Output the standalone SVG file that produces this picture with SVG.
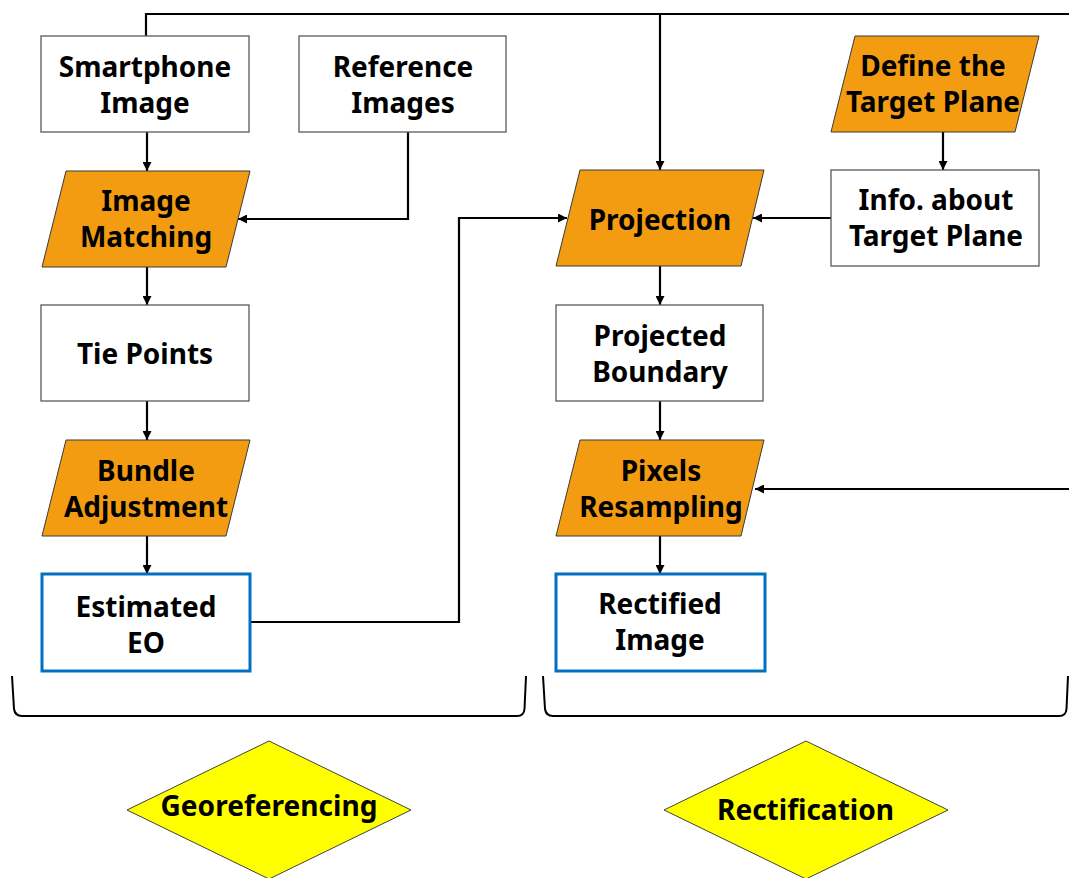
<svg xmlns="http://www.w3.org/2000/svg" width="1069" height="878" viewBox="0 0 1069 878">
  <defs>
    <marker id="arrow" markerUnits="userSpaceOnUse" markerWidth="9" markerHeight="9" refX="9" refY="4.5" orient="auto">
      <path d="M0,0 L9,4.5 L0,9 z" fill="#000"/>
    </marker>
    <style>
      .box { fill: #fff; stroke: #595959; stroke-width: 1.3; }
      .out { fill: #fff; stroke: #0070C0; stroke-width: 3; }
      .proc { fill: #F39C12; stroke: #3a3a3a; stroke-width: 1; }
      .dia { fill: #FFFF00; stroke: #404040; stroke-width: 1; }
      .lbl { font-family: "Noto Sans", "Open Sans", "Liberation Sans", sans-serif; font-weight: bold; font-size: 28px; fill: #000; text-anchor: middle; }
      .edge { fill: none; stroke: #000; stroke-width: 2.2; }
      .brace { fill: none; stroke: #000; stroke-width: 2; }
    </style>
  </defs>
  <rect width="1069" height="878" fill="#fff"/>

  <!-- connectors -->
  <g id="connectors">
    <path class="edge" d="M146,36 V14 H1069"/>
    <path class="edge" d="M660,14 V170" marker-end="url(#arrow)"/>
    <path class="edge" d="M147,132 V171" marker-end="url(#arrow)"/>
    <path class="edge" d="M408,132 V219 H238" marker-end="url(#arrow)"/>
    <path class="edge" d="M147,267 V305" marker-end="url(#arrow)"/>
    <path class="edge" d="M147,401 V440" marker-end="url(#arrow)"/>
    <path class="edge" d="M147,536 V574" marker-end="url(#arrow)"/>
    <path class="edge" d="M250,622 H459 V218 H567" marker-end="url(#arrow)"/>
    <path class="edge" d="M831,218 H753" marker-end="url(#arrow)"/>
    <path class="edge" d="M943,132 V170" marker-end="url(#arrow)"/>
    <path class="edge" d="M660,266 V305" marker-end="url(#arrow)"/>
    <path class="edge" d="M660,401 V440" marker-end="url(#arrow)"/>
    <path class="edge" d="M1069,489 H755" marker-end="url(#arrow)"/>
    <path class="edge" d="M660,536 V574" marker-end="url(#arrow)"/>
  </g>

  <!-- georeferencing branch -->
  <g id="smartphone-image">
    <rect class="box" x="41" y="36" width="208" height="96"/>
    <text class="lbl" x="145" y="77">Smartphone</text>
    <text class="lbl" x="145" y="113">Image</text>
  </g>
  <g id="reference-images">
    <rect class="box" x="299" y="36" width="207" height="96"/>
    <text class="lbl" x="403" y="77">Reference</text>
    <text class="lbl" x="403" y="113">Images</text>
  </g>
  <g id="image-matching">
    <polygon class="proc" points="66,171 250,171 226,267 42,267"/>
    <text class="lbl" x="146" y="211">Image</text>
    <text class="lbl" x="146" y="247">Matching</text>
  </g>
  <g id="tie-points">
    <rect class="box" x="41" y="305" width="208" height="96"/>
    <text class="lbl" x="145" y="364">Tie Points</text>
  </g>
  <g id="bundle-adjustment">
    <polygon class="proc" points="66,440 250,440 226,536 42,536"/>
    <text class="lbl" x="146" y="481">Bundle</text>
    <text class="lbl" x="146" y="517">Adjustment</text>
  </g>
  <g id="estimated-eo">
    <rect class="out" x="42" y="574" width="208" height="97"/>
    <text class="lbl" x="146" y="617">Estimated</text>
    <text class="lbl" x="146" y="653">EO</text>
  </g>

  <!-- rectification branch -->
  <g id="define-target-plane">
    <polygon class="proc" points="855,36 1039,36 1015,132 831,132"/>
    <text class="lbl" x="933" y="76">Define the</text>
    <text class="lbl" x="933" y="112">Target Plane</text>
  </g>
  <g id="target-plane-info">
    <rect class="box" x="831" y="170" width="208" height="96"/>
    <text class="lbl" x="936" y="210">Info. about</text>
    <text class="lbl" x="936" y="246">Target Plane</text>
  </g>
  <g id="projection">
    <polygon class="proc" points="580,170 764,170 741,266 556,266"/>
    <text class="lbl" x="660" y="230">Projection</text>
  </g>
  <g id="projected-boundary">
    <rect class="box" x="556" y="305" width="207" height="96"/>
    <text class="lbl" x="660" y="346">Projected</text>
    <text class="lbl" x="660" y="382">Boundary</text>
  </g>
  <g id="pixels-resampling">
    <polygon class="proc" points="580,440 764,440 741,536 556,536"/>
    <text class="lbl" x="661" y="481">Pixels</text>
    <text class="lbl" x="661" y="517">Resampling</text>
  </g>
  <g id="rectified-image">
    <rect class="out" x="556" y="574" width="209" height="97"/>
    <text class="lbl" x="660" y="614">Rectified</text>
    <text class="lbl" x="660" y="650">Image</text>
  </g>

  <!-- stage braces -->
  <g id="braces">
    <path class="brace" d="M12,676 L14,709 Q15,716 22,716 L517,716 Q524,716 524.5,709 L526,676"/>
    <path class="brace" d="M543,676 L545,709 Q546,716 553,716 L1059,716 Q1066,716 1066.5,709 L1068,676"/>
  </g>

  <!-- stage labels -->
  <g id="georeferencing">
    <polygon class="dia" points="269,741 411,810 269,879 127,810"/>
    <text class="lbl" x="269" y="816" font-size="29" textLength="217" lengthAdjust="spacingAndGlyphs">Georeferencing</text>
  </g>
  <g id="rectification">
    <polygon class="dia" points="806,741 948,810 806,879 664,810"/>
    <text class="lbl" x="805.5" y="820" font-size="29" textLength="177" lengthAdjust="spacingAndGlyphs">Rectification</text>
  </g>
</svg>
